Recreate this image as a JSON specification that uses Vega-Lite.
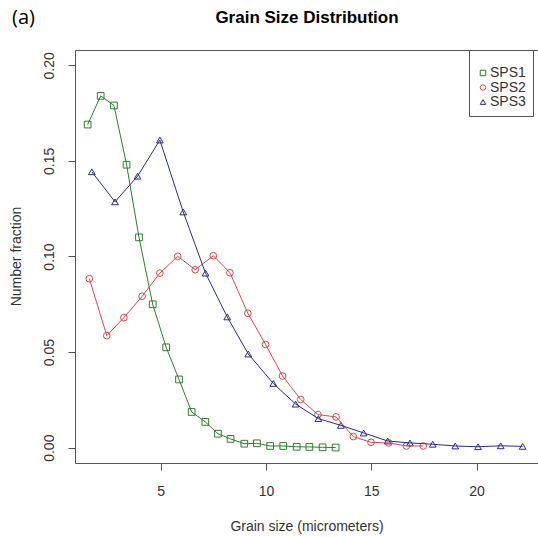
{
  "$schema": "https://vega.github.io/schema/vega-lite/v6.json",
  "width": 463,
  "height": 413,
  "autosize": {"type": "none"},
  "padding": {"left": 75, "top": 50, "right": 0, "bottom": 74},
  "background": "white",
  "title": {
    "text": "(a)",
    "anchor": "start",
    "frame": "bounds",
    "font": "Open Sans",
    "fontSize": 20,
    "fontWeight": "normal",
    "color": "#000000",
    "baseline": "alphabetic",
    "offset": -16,
    "dy": 19,
    "dx": 3
  },
  "config": {
    "font": "Liberation Sans",
    "view": {"stroke": "#555555", "strokeWidth": 1}
  },
  "data": {
    "values": [
      {"series": "SPS1", "x": 1.53, "y": 0.169},
      {"series": "SPS1", "x": 2.15, "y": 0.184},
      {"series": "SPS1", "x": 2.78, "y": 0.179},
      {"series": "SPS1", "x": 3.38, "y": 0.148},
      {"series": "SPS1", "x": 3.97, "y": 0.110},
      {"series": "SPS1", "x": 4.62, "y": 0.075},
      {"series": "SPS1", "x": 5.26, "y": 0.0525},
      {"series": "SPS1", "x": 5.87, "y": 0.0357},
      {"series": "SPS1", "x": 6.47, "y": 0.0187},
      {"series": "SPS1", "x": 7.12, "y": 0.0135},
      {"series": "SPS1", "x": 7.72, "y": 0.0073},
      {"series": "SPS1", "x": 8.32, "y": 0.0046},
      {"series": "SPS1", "x": 8.97, "y": 0.0021},
      {"series": "SPS1", "x": 9.57, "y": 0.0023},
      {"series": "SPS1", "x": 10.2, "y": 0.0009},
      {"series": "SPS1", "x": 10.82, "y": 0.0009},
      {"series": "SPS1", "x": 11.46, "y": 0.0005},
      {"series": "SPS1", "x": 12.06, "y": 0.0004},
      {"series": "SPS1", "x": 12.69, "y": 0.0002},
      {"series": "SPS1", "x": 13.31, "y": 0.0001},
      {"series": "SPS2", "x": 1.61, "y": 0.0884},
      {"series": "SPS2", "x": 2.44, "y": 0.0586},
      {"series": "SPS2", "x": 3.25, "y": 0.068},
      {"series": "SPS2", "x": 4.12, "y": 0.0792},
      {"series": "SPS2", "x": 4.96, "y": 0.0913},
      {"series": "SPS2", "x": 5.81, "y": 0.1001},
      {"series": "SPS2", "x": 6.64, "y": 0.0931},
      {"series": "SPS2", "x": 7.5, "y": 0.1004},
      {"series": "SPS2", "x": 8.29, "y": 0.0915},
      {"series": "SPS2", "x": 9.14, "y": 0.0703},
      {"series": "SPS2", "x": 9.98, "y": 0.054},
      {"series": "SPS2", "x": 10.79, "y": 0.0375},
      {"series": "SPS2", "x": 11.65, "y": 0.0252},
      {"series": "SPS2", "x": 12.47, "y": 0.0173},
      {"series": "SPS2", "x": 13.33, "y": 0.0161},
      {"series": "SPS2", "x": 14.15, "y": 0.0058},
      {"series": "SPS2", "x": 14.99, "y": 0.0028},
      {"series": "SPS2", "x": 15.83, "y": 0.0025},
      {"series": "SPS2", "x": 16.67, "y": 0.0009},
      {"series": "SPS2", "x": 17.47, "y": 0.0009},
      {"series": "SPS3", "x": 1.73, "y": 0.1443},
      {"series": "SPS3", "x": 2.83, "y": 0.1286},
      {"series": "SPS3", "x": 3.9, "y": 0.142},
      {"series": "SPS3", "x": 4.96, "y": 0.1609},
      {"series": "SPS3", "x": 6.07, "y": 0.1233},
      {"series": "SPS3", "x": 7.13, "y": 0.0913},
      {"series": "SPS3", "x": 8.16, "y": 0.0684},
      {"series": "SPS3", "x": 9.16, "y": 0.049},
      {"series": "SPS3", "x": 10.35, "y": 0.0336},
      {"series": "SPS3", "x": 11.41, "y": 0.0228},
      {"series": "SPS3", "x": 12.49, "y": 0.0152},
      {"series": "SPS3", "x": 13.56, "y": 0.0117},
      {"series": "SPS3", "x": 14.64, "y": 0.0077},
      {"series": "SPS3", "x": 15.78, "y": 0.0035},
      {"series": "SPS3", "x": 16.84, "y": 0.0025},
      {"series": "SPS3", "x": 17.92, "y": 0.0018},
      {"series": "SPS3", "x": 18.99, "y": 0.0009},
      {"series": "SPS3", "x": 20.07, "y": 0.0005},
      {"series": "SPS3", "x": 21.15, "y": 0.001},
      {"series": "SPS3", "x": 22.19, "y": 0.0007}
    ]
  },
  "resolve": {"axis": {"x": "independent"}},
  "layer": [
    {
      "mark": {"type": "point", "filled": false, "strokeWidth": 1, "size": 45, "opacity": 1},
      "encoding": {
        "x": {
          "field": "x",
          "type": "quantitative",
          "scale": {"domain": [0.93, 22.92], "nice": false, "zero": false},
          "axis": {
            "orient": "top",
            "title": "Grain Size Distribution",
            "labels": false,
            "ticks": false,
            "domain": false,
            "grid": false,
            "titleFontSize": 17,
            "titleFontWeight": "bold",
            "titleColor": "#000000",
            "titleBaseline": "alphabetic",
            "titleY": -27.5
          }
        },
        "y": {
          "field": "y",
          "type": "quantitative",
          "scale": {"domain": [-0.008, 0.208], "nice": false, "zero": false},
          "axis": {
            "values": [0, 0.05, 0.1, 0.15, 0.2],
            "format": ".2f",
            "title": "Number fraction",
            "domain": false,
            "grid": false,
            "tickColor": "#555555",
            "tickSize": 7,
            "labelAngle": 270,
            "labelAlign": "center",
            "labelBaseline": "alphabetic",
            "labelFontSize": 14,
            "labelColor": "#333333",
            "labelPadding": 15,
            "labelFlush": false,
            "titleFontSize": 14,
            "titleFontWeight": "normal",
            "titleColor": "#333333",
            "titleAngle": 270,
            "titleBaseline": "alphabetic",
            "titleAlign": "center",
            "titleX": -55,
            "titleY": 206
          }
        },
        "color": {
          "field": "series",
          "type": "nominal",
          "scale": {"domain": ["SPS1", "SPS2", "SPS3"], "range": ["#2d7d2d", "#d24b4b", "#2b2b8c"]},
          "legend": {
            "title": " ",
            "titleFontSize": 9,
            "titlePadding": 0,
            "orient": "none",
            "legendX": 394,
            "legendY": 0,
            "padding": 7,
            "rowPadding": 0.5,
            "strokeColor": "#555555",
            "fillColor": "white",
            "symbolSize": 30,
            "symbolStrokeWidth": 1,
            "symbolFillColor": "transparent",
            "labelFontSize": 14,
            "labelColor": "#333333",
            "labelOffset": 0
          }
        },
        "shape": {
          "field": "series",
          "type": "nominal",
          "scale": {"domain": ["SPS1", "SPS2", "SPS3"], "range": ["square", "circle", "triangle-up"]}
        }
      }
    },
    {
      "mark": {"type": "line", "strokeWidth": 1},
      "encoding": {
        "x": {
          "field": "x",
          "type": "quantitative",
          "axis": {
            "orient": "bottom",
            "values": [5, 10, 15, 20],
            "title": "Grain size (micrometers)",
            "domain": false,
            "grid": false,
            "tickColor": "#555555",
            "tickSize": 7,
            "labelFontSize": 14,
            "labelColor": "#333333",
            "labelPadding": 14,
            "labelFlush": false,
            "titleFontSize": 14,
            "titleFontWeight": "normal",
            "titleColor": "#333333",
            "titleBaseline": "alphabetic",
            "titleY": 67
          }
        },
        "y": {"field": "y", "type": "quantitative"},
        "color": {
          "field": "series",
          "type": "nominal"
        }
      }
    }
  ]
}
